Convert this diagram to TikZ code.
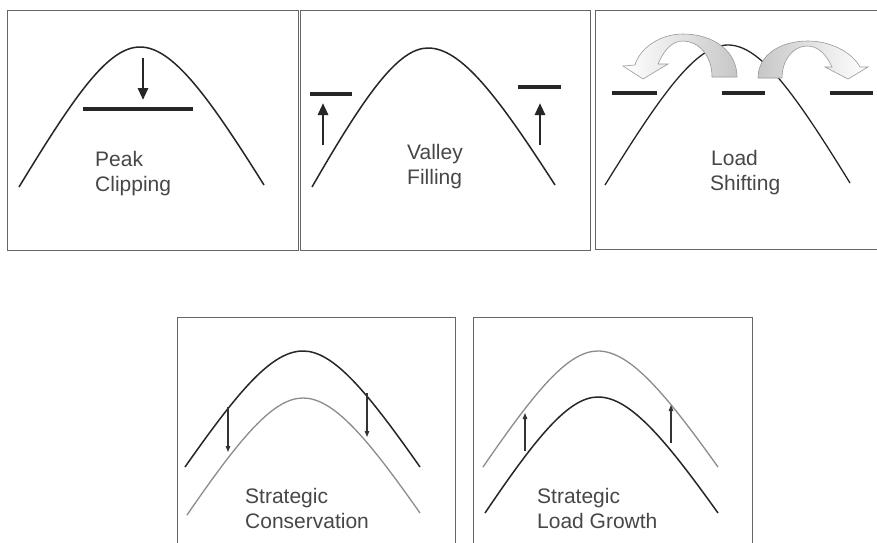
\documentclass[tikz,border=0pt]{standalone}
\usepackage{fontspec}
\setmainfont{Liberation Sans}
\usetikzlibrary{arrows.meta}
\begin{document}
\begin{tikzpicture}[x=1pt,y=-1pt,
  panel/.style={draw=black!60, line width=0.9pt},
  curve/.style={draw=black!85, line width=1.5pt},
  graycurve/.style={draw=black!45, line width=1.3pt},
  bar/.style={draw=black!85, line width=4.2pt},
  bigarrow/.style={draw=black!85, line width=2.8pt, -{Triangle[width=10pt,length=12pt]}},
  smallarrow/.style={draw=black!80, line width=1.2pt, -{Triangle[width=4.5pt,length=6pt]}},
  lbl/.style={font=\fontsize{21}{25}\selectfont, text=black!72, anchor=base west, inner sep=0pt},
  shiftarrow/.style={draw=black!40, line width=0.6pt}
]
\useasboundingbox (0,0) rectangle (877,542);
\clip (0,0) rectangle (877,542);
\fill[white] (0,0) rectangle (877,542);

% ---------- panels
\draw[panel] (7,10) rectangle (298,250);
\draw[panel] (300,10) rectangle (590,250);
\draw[panel] (595,10) rectangle (890,249);
\draw[panel] (177,317) rectangle (455,560);
\draw[panel] (473,317) rectangle (752,560);

% ---------- Peak clipping
\coordinate (p1s) at (19,187); \coordinate (p1p) at (140,47); \coordinate (p1e) at (264,185);
\draw[curve] (p1s) .. controls (75,95) and (108,47) .. (p1p) .. controls (172,47) and (207,94) .. (p1e);
\coordinate (p1a) at (143,58); \coordinate (p1b) at (143,100);
\draw[bigarrow] (p1a) -- (p1b);
\coordinate (p1l) at (83,109); \coordinate (p1r) at (193,109);
\draw[bar] (p1l) -- (p1r);
\node[lbl] (t1a) at (95,166) {Peak};
\node[lbl] (t1b) at (95,191) {Clipping};

% ---------- Valley filling
\coordinate (p2s) at (312,187); \coordinate (p2p) at (428,48); \coordinate (p2e) at (555,185);
\draw[curve] (p2s) .. controls (365,95) and (398,48) .. (p2p) .. controls (461,48) and (497,95) .. (p2e);
\coordinate (p2bl1) at (310,94); \coordinate (p2bl2) at (352,94);
\coordinate (p2br1) at (518,87); \coordinate (p2br2) at (561,87);
\draw[bar] (p2bl1) -- (p2bl2);
\draw[bar] (p2br1) -- (p2br2);
\coordinate (p2a1) at (323,145); \coordinate (p2a2) at (323,103);
\coordinate (p2a3) at (540,145); \coordinate (p2a4) at (540,103);
\draw[bigarrow] (p2a1) -- (p2a2);
\draw[bigarrow] (p2a3) -- (p2a4);
\node[lbl] (t2a) at (407,159) {Valley};
\node[lbl] (t2b) at (407,184) {Filling};

% ---------- Load shifting
\coordinate (p3s) at (605,185); \coordinate (p3p) at (728,45); \coordinate (p3e) at (850,183);
\draw[curve, line width=1.3pt] (p3s) .. controls (662,93) and (696,45) .. (p3p) .. controls (760,45) and (794,92) .. (p3e);
\coordinate (p3b1) at (612,93); \coordinate (p3b2) at (657,93);
\coordinate (p3b3) at (722,93); \coordinate (p3b4) at (765,93);
\coordinate (p3b5) at (830,93); \coordinate (p3b6) at (873,93);
\draw[bar, line width=4.6pt] (p3b1) -- (p3b2);
\draw[bar, line width=4.6pt] (p3b3) -- (p3b4);
\draw[bar, line width=4.6pt] (p3b5) -- (p3b6);
% left curved arrow (tail at right, head at left)
\shade[left color=white, right color=black!22, shiftarrow]
  (737,77) .. controls (737,50) and (712,34) .. (683,34)
  .. controls (660,34) and (640,48) .. (635,65)
  -- (623,66) -- (643,79) -- (668,64) -- (658,64)
  .. controls (664,50) and (672,41) .. (683,41)
  .. controls (698,41) and (712,55) .. (712,77) -- cycle;
% right curved arrow (tail at left, head at right)
\shade[left color=black!22, right color=white, shiftarrow]
  (758,78) .. controls (758,55) and (780,41) .. (808,41)
  .. controls (830,41) and (852,52) .. (860,67)
  -- (868,67) -- (848,79) -- (825,67) -- (832,67)
  .. controls (826,54) and (818,46) .. (807,46)
  .. controls (793,46) and (782,60) .. (782,78) -- cycle;
\node[lbl] (t3a) at (711,165) {Load};
\node[lbl] (t3b) at (710,190) {Shifting};

% ---------- Strategic conservation
\draw[curve] (185,467) .. controls (239,390) and (272,351) .. (303,351) .. controls (333,351) and (366,390) .. (420,467);
\draw[graycurve] (187,515) .. controls (240,438) and (273,398) .. (303,398) .. controls (333,398) and (366,436) .. (420,513);
\coordinate (p4a1) at (228,407); \coordinate (p4a2) at (228,452);
\coordinate (p4a3) at (367,393); \coordinate (p4a4) at (367,437);
\draw[smallarrow] (p4a1) -- (p4a2);
\draw[smallarrow] (p4a3) -- (p4a4);
\node[lbl] (t4a) at (245,503) {Strategic};
\node[lbl] (t4b) at (245,528) {Conservation};

% ---------- Strategic load growth
\draw[graycurve] (483,467) .. controls (536,390) and (568,351) .. (598,351) .. controls (629,351) and (663,390) .. (718,467);
\draw[curve] (485,513) .. controls (537,436) and (569,397) .. (598,397) .. controls (629,397) and (663,436) .. (718,513);
\coordinate (p5a1) at (525,451); \coordinate (p5a2) at (525,413);
\coordinate (p5a3) at (671,443); \coordinate (p5a4) at (671,405);
\draw[smallarrow] (p5a1) -- (p5a2);
\draw[smallarrow] (p5a3) -- (p5a4);
\node[lbl] (t5a) at (537,503) {Strategic};
\node[lbl] (t5b) at (537,528) {Load Growth};
\end{tikzpicture}
\end{document}
